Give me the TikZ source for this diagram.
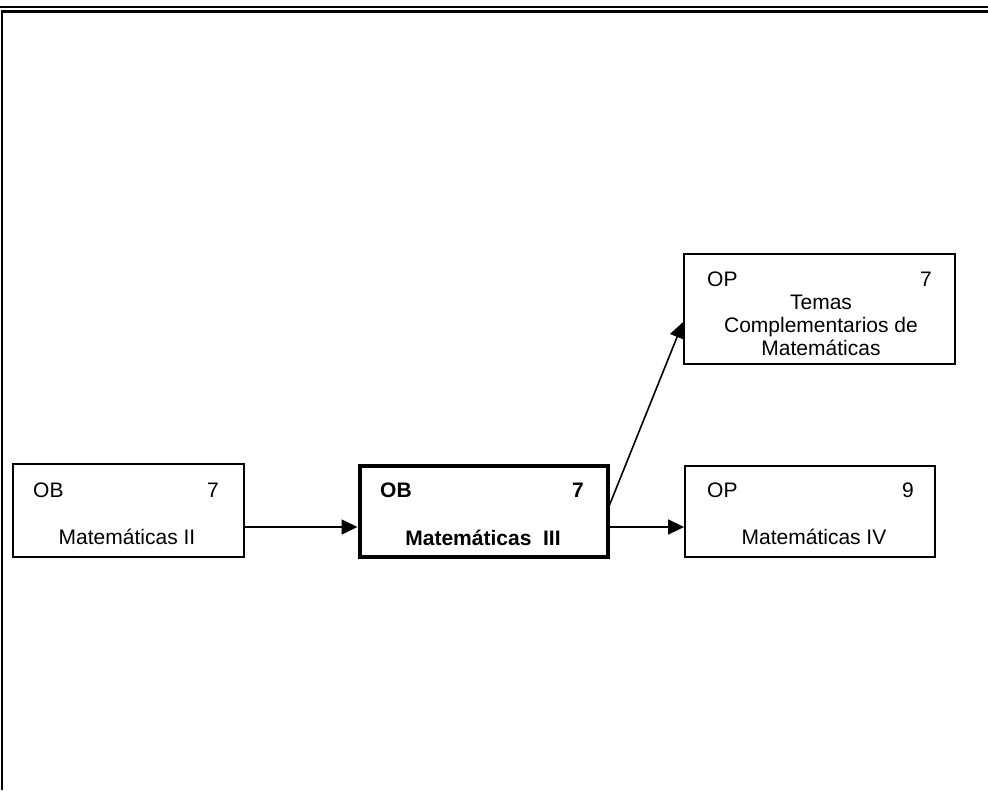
\documentclass[tikz,border=0pt]{standalone}
\usepackage{fontspec}
\setmainfont{Liberation Sans}
\usetikzlibrary{arrows.meta}
\begin{document}
\begin{tikzpicture}[x=1pt,y=-1pt,
  box/.style={draw,line width=1.8pt,inner sep=0pt},
  thickbox/.style={draw,line width=4pt,inner sep=0pt},
  lbl/.style={inner sep=0pt,font=\fontsize{21pt}{23pt}\selectfont},
  arr/.style={line width=1.6pt,-{Triangle[length=16pt,width=15pt]}},
  frame/.style={line width=2.8pt}]
\useasboundingbox (0,0) rectangle (988,790);
% frame
\coordinate (f1) at (0,7);
\coordinate (f2) at (988,7);
\coordinate (f3) at (2,11.5);
\coordinate (f4) at (988,11.5);
\coordinate (f5) at (2,790);
\draw[frame] (f1) -- (f2);
\draw[frame] (f4) -- (f3) -- (f5);
% boxes
\node[box,minimum width=231pt,minimum height=93pt] (m2) at (128.5,510.5) {};
\node[thickbox,minimum width=248pt,minimum height=91pt] (m3) at (483.5,511) {};
\node[box,minimum width=271pt,minimum height=110pt] (tc) at (819.5,309) {};
\node[box,minimum width=250pt,minimum height=91pt] (m4) at (810,511.5) {};
% texts box 1
\node[lbl,anchor=base west] (m2a) at (33,497) {OB};
\node[lbl,anchor=base] (m2b) at (213,497) {7};
\node[lbl,anchor=base] (m2c) at (127,544) {Matemáticas II};
% texts box 2
\node[lbl,anchor=base west] (m3a) at (380,497) {\textbf{OB}};
\node[lbl,anchor=base] (m3b) at (578,497) {\textbf{7}};
\node[lbl,anchor=base] (m3c) at (483,545) {\textbf{Matemáticas\ \ III}};
% texts box 3
\node[lbl,anchor=base west] (tca) at (707,286) {OP};
\node[lbl,anchor=base] (tcb) at (926,286) {7};
\node[lbl,anchor=base] (tcc) at (821,309) {Temas};
\node[lbl,anchor=base] (tcd) at (821,332) {Complementarios de};
\node[lbl,anchor=base] (tce) at (821,355) {Matemáticas};
% texts box 4
\node[lbl,anchor=base west] (m4a) at (707,497) {OP};
\node[lbl,anchor=base] (m4b) at (908,497) {9};
\node[lbl,anchor=base] (m4c) at (814,544) {Matemáticas IV};
% arrows
\draw[arr] (m2.east |- 0,527) -- (m3.west |- 0,527);
\draw[arr] (m3.east |- 0,527) -- (m4.west |- 0,527);
\draw[arr] (m3.east |- 0,505) -- (tc.west |- 0,322);
\end{tikzpicture}
\end{document}
